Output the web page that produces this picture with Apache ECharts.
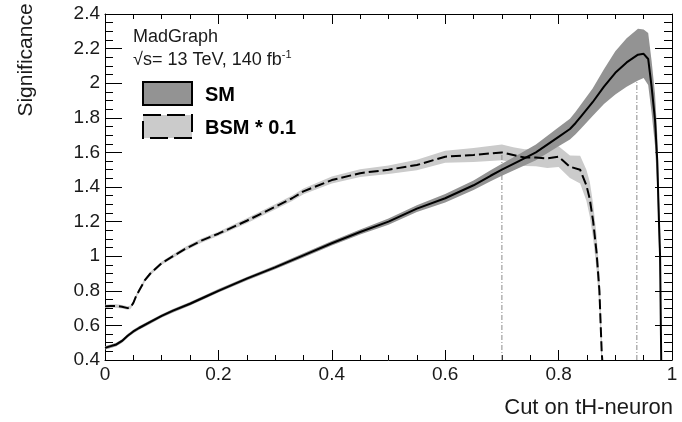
<!DOCTYPE html>
<html>
<head>
<meta charset="utf-8">
<script src="https://cdn.jsdelivr.net/npm/echarts@6/dist/echarts.min.js"></script>
<style>
html,body{margin:0;padding:0;background:#fff;}
#c{width:682px;height:422px;}
</style>
</head>
<body>
<div id="c"></div>
<script>
// ---- data ----
var smX   = [0, 0.01, 0.02, 0.03, 0.04, 0.05, 0.06, 0.08, 0.10, 0.12, 0.15, 0.18, 0.20, 0.25, 0.30, 0.35, 0.40, 0.45, 0.50, 0.55, 0.60, 0.65, 0.68, 0.70, 0.73, 0.76, 0.80, 0.82, 0.83, 0.84, 0.86, 0.88, 0.90, 0.92, 0.94, 0.95, 0.958, 0.964, 0.970, 0.974, 0.977, 0.979, 0.981];
var smY   = [0.47, 0.48, 0.49, 0.51, 0.54, 0.565, 0.585, 0.62, 0.655, 0.685, 0.725, 0.77, 0.80, 0.87, 0.935, 1.005, 1.075, 1.14, 1.20, 1.275, 1.335, 1.41, 1.465, 1.50, 1.55, 1.60, 1.69, 1.735, 1.77, 1.81, 1.89, 1.98, 2.06, 2.12, 2.165, 2.17, 2.14, 1.98, 1.79, 1.55, 1.20, 1.00, 0.40];
var smErr = [0.01, 0.01, 0.01, 0.01, 0.01, 0.01, 0.01, 0.01, 0.01, 0.01, 0.01, 0.01, 0.01, 0.01, 0.011, 0.012, 0.013, 0.015, 0.018, 0.02, 0.024, 0.028, 0.032, 0.035, 0.04, 0.045, 0.055, 0.06, 0.065, 0.07, 0.08, 0.10, 0.125, 0.14, 0.15, 0.14, 0.15, 0.15, 0.15, 0.15, 0.15, 0.15, 0.0];

var bsmX   = [0, 0.01, 0.02, 0.03, 0.04, 0.045, 0.05, 0.055, 0.06, 0.07, 0.08, 0.10, 0.12, 0.14, 0.17, 0.20, 0.25, 0.30, 0.33, 0.35, 0.40, 0.45, 0.50, 0.55, 0.60, 0.65, 0.70, 0.72, 0.74, 0.76, 0.78, 0.80, 0.82, 0.838, 0.849, 0.855, 0.861, 0.867, 0.872, 0.874, 0.876, 0.877];
var bsmY   = [0.71, 0.712, 0.712, 0.708, 0.70, 0.705, 0.73, 0.77, 0.80, 0.86, 0.90, 0.96, 1.00, 1.04, 1.09, 1.13, 1.205, 1.285, 1.335, 1.375, 1.44, 1.48, 1.50, 1.527, 1.575, 1.585, 1.60, 1.585, 1.57, 1.57, 1.565, 1.575, 1.517, 1.50, 1.41, 1.33, 1.20, 1.02, 0.80, 0.62, 0.45, 0.40];
var bsmErr = [0.01, 0.01, 0.01, 0.01, 0.01, 0.01, 0.01, 0.01, 0.01, 0.01, 0.01, 0.01, 0.011, 0.012, 0.012, 0.012, 0.014, 0.015, 0.016, 0.017, 0.02, 0.022, 0.025, 0.03, 0.035, 0.04, 0.045, 0.045, 0.048, 0.05, 0.055, 0.06, 0.065, 0.08, 0.09, 0.1, 0.1, 0.1, 0.1, 0.1, 0.1, 0.0];

var cutX   = [0.70, 0.938];
var cutTop = [1.60, 2.01];

var xTicks = [0, 0.2, 0.4, 0.6, 0.8, 1];
var yTicks = [0.4, 0.6, 0.8, 1, 1.2, 1.4, 1.6, 1.8, 2, 2.2, 2.4];

var legendNames = ['SM', 'BSM * 0.1'];
var label1 = 'MadGraph';
var label2 = '√s= 13 TeV, 140 fb';
var xTitle = 'Cut on tH-neuron';
var yTitle = 'Significance';

// ---- styles ----
var FONT = '"Liberation Sans", Arial, Helvetica, sans-serif';
var SM_BAND = '#939393';
var BSM_BAND = '#cbcbcb';

function bandSeries(xs, ys, es, color, z) {
  return {
    type: 'custom', z: z, clip: true, silent: true,
    data: xs.map(function (x, i) { return [x, ys[i] - es[i], ys[i] + es[i]]; }),
    encode: { x: 0, y: [1, 2] },
    renderItem: function (params, api) {
      if (params.dataIndex !== 0) return null;
      var up = xs.map(function (x, i) { return api.coord([x, ys[i] + es[i]]); });
      var lo = xs.map(function (x, i) { return api.coord([x, ys[i] - es[i]]); }).reverse();
      return { type: 'polygon', shape: { points: up.concat(lo) }, style: { fill: color } };
    }
  };
}

function pairs(xs, ys) { return xs.map(function (x, i) { return [x, ys[i]]; }); }

var axisCommon = {
  min: 0, max: 1, interval: 0.2,
  axisLine: { show: true, onZero: false, lineStyle: { color: '#000', width: 1 } },
  splitLine: { show: false }
};

var series = [
  bandSeries(bsmX, bsmY, bsmErr, BSM_BAND, 1),
  bandSeries(smX, smY, smErr, SM_BAND, 2)
];
cutX.forEach(function (cx, i) {
  series.push({
    type: 'line', z: 3, silent: true, showSymbol: false,
    data: [[cx, 0.4], [cx, cutTop[i]]],
    lineStyle: { color: '#8a8a8a', width: 1, type: [5, 2, 1, 2] }
  });
});
series.push({
  type: 'line', z: 4, silent: true, showSymbol: false,
  data: pairs(bsmX, bsmY),
  lineStyle: { color: '#000', width: 2, type: [10, 4] }
});
series.push({
  type: 'line', z: 5, silent: true, showSymbol: false,
  data: pairs(smX, smY),
  lineStyle: { color: '#000', width: 2 }
});

var chart = echarts.init(document.getElementById('c'), null, { renderer: 'canvas' });
chart.setOption({
  animation: false,
  backgroundColor: '#fff',
  grid: { left: 105, right: 10, top: 14, bottom: 62 },
  xAxis: [
    Object.assign({}, axisCommon, {
      type: 'value', position: 'bottom',
      axisTick: { show: true, inside: true, length: 10, lineStyle: { color: '#000' } },
      minorTick: { show: true, splitNumber: 4, length: 5, lineStyle: { color: '#000' } },
      axisLabel: {
        color: '#1a1a1a', fontFamily: FONT, fontSize: 19, margin: 5,
        formatter: function (v) {
          var t = xTicks.filter(function (k) { return Math.abs(k - v) < 1e-6; });
          return t.length ? String(t[0]) : '';
        }
      }
    }),
    Object.assign({}, axisCommon, {
      type: 'value', position: 'top',
      axisTick: { show: true, inside: true, length: 10, lineStyle: { color: '#000' } },
      minorTick: { show: true, splitNumber: 4, length: 5, lineStyle: { color: '#000' } },
      axisLabel: { show: false }
    })
  ],
  yAxis: [
    {
      type: 'value', min: 0.4, max: 2.4, interval: 0.2, position: 'left',
      axisLine: { show: true, onZero: false, lineStyle: { color: '#000', width: 1 } },
      splitLine: { show: false },
      axisTick: { show: true, inside: true, length: 17, lineStyle: { color: '#000' } },
      minorTick: { show: true, splitNumber: 4, length: 8, lineStyle: { color: '#000' } },
      axisLabel: {
        color: '#1a1a1a', fontFamily: FONT, fontSize: 19, margin: 5,
        formatter: function (v) {
          var t = yTicks.filter(function (k) { return Math.abs(k - v) < 1e-6; });
          return t.length ? String(t[0]) : '';
        }
      }
    },
    {
      type: 'value', min: 0.4, max: 2.4, interval: 0.2, position: 'right',
      axisLine: { show: true, onZero: false, lineStyle: { color: '#000', width: 1 } },
      splitLine: { show: false },
      axisTick: { show: true, inside: true, length: 17, lineStyle: { color: '#000' } },
      minorTick: { show: true, splitNumber: 4, length: 8, lineStyle: { color: '#000' } },
      axisLabel: { show: false }
    }
  ],
  series: series,
  graphic: [
    { type: 'text', x: 133, y: 37, style: { text: label1, font: '18px ' + FONT, fill: '#1a1a1a', verticalAlign: 'middle' } },
    { type: 'text', x: 133, y: 60, style: {
        text: '{a|' + label2 + '}{s|-1}', verticalAlign: 'middle',
        rich: { a: { font: '18px ' + FONT, fill: '#1a1a1a' }, s: { font: '11px ' + FONT, fill: '#1a1a1a', padding: [0, 0, 10, 0] } }
      } },
    { type: 'rect', shape: { x: 143, y: 82, width: 49, height: 23 }, style: { fill: SM_BAND, stroke: '#000', lineWidth: 2 } },
    { type: 'rect', shape: { x: 143, y: 115, width: 49, height: 23 }, style: { fill: BSM_BAND, stroke: '#000', lineWidth: 2, lineDash: [18, 6] } },
    { type: 'text', x: 205, y: 95, style: { text: legendNames[0], font: 'bold 20px ' + FONT, fill: '#000', verticalAlign: 'middle' } },
    { type: 'text', x: 205, y: 128, style: { text: legendNames[1], font: 'bold 20px ' + FONT, fill: '#000', verticalAlign: 'middle' } },
    { type: 'text', x: 673, y: 408, style: { text: xTitle, font: '22px ' + FONT, fill: '#1a1a1a', align: 'right', verticalAlign: 'middle' } },
    { type: 'text', x: 26, y: 60, rotation: Math.PI / 2, style: { text: yTitle, font: '21px ' + FONT, fill: '#1a1a1a', align: 'center', verticalAlign: 'middle' } }
  ]
});
</script>
</body>
</html>
